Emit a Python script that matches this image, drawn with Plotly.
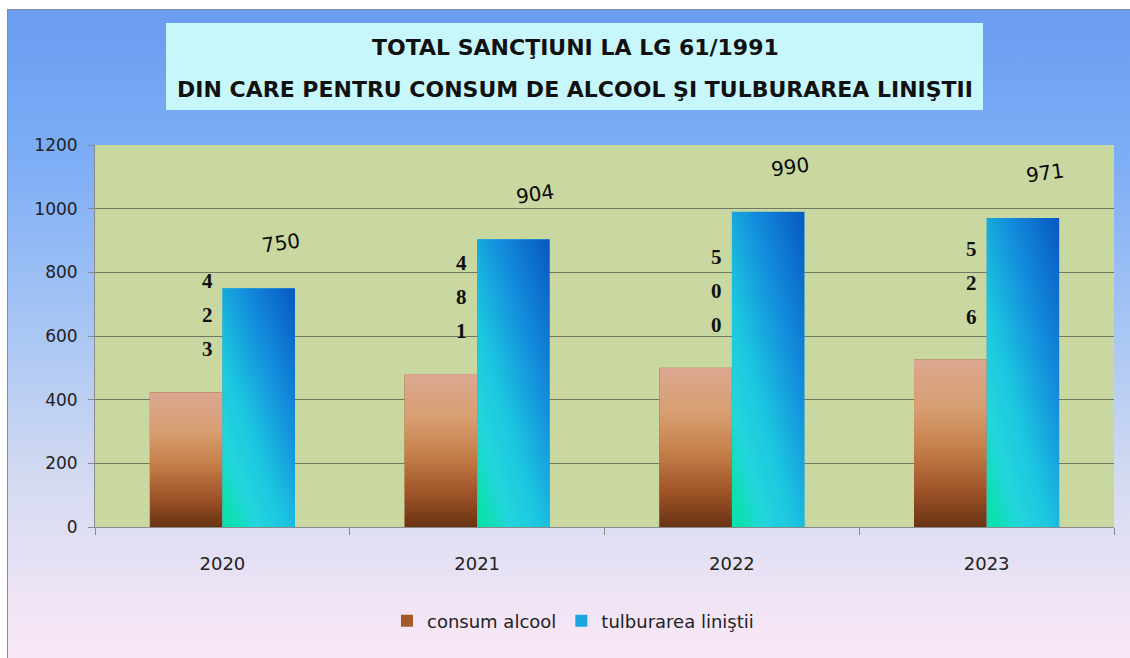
import base64
import plotly.graph_objects as go

# ---------------- data ----------------
years = ["2020", "2021", "2022", "2023"]
consum_alcool = [423, 481, 500, 526]
tulburarea_linistii = [750, 904, 990, 971]
y_ticks = [0, 200, 400, 600, 800, 1000, 1200]
series_names = ["consum alcool", "tulburarea liniştii"]
title_line1 = "TOTAL SANCŢIUNI LA LG 61/1991"
title_line2 = "DIN CARE PENTRU CONSUM DE ALCOOL ŞI TULBURAREA LINIŞTII"

# ---------------- layout geometry ----------------
W, H = 1130, 658
L, R, T, B = 95, 16, 145, 131
PW, PH = W - L - R, H - T - B
BARGAP = 0.43
BW = (1 - BARGAP) / 2
xs = list(range(len(years)))


def px2paper_x(px):
    return (px - L) / PW


def px2paper_y(py):
    return (H - B - py) / PH


def svg_uri(s):
    return "data:image/svg+xml;base64," + base64.b64encode(s.encode("utf-8")).decode()


bg_svg = f'''<svg xmlns="http://www.w3.org/2000/svg" width="{W}" height="{H}" viewBox="0 0 {W} {H}" preserveAspectRatio="none">
<defs><linearGradient id="g" x1="0" y1="0" x2="0" y2="1">
<stop offset="0" stop-color="#6a9cf0"/>
<stop offset="0.22" stop-color="#7cadf6"/>
<stop offset="0.5" stop-color="#abc7f4"/>
<stop offset="0.72" stop-color="#d5dbf1"/>
<stop offset="1" stop-color="#fde9f7"/>
</linearGradient></defs>
<rect x="0" y="0" width="{W}" height="{H}" fill="#ffffff"/>
<rect x="7.5" y="9.5" width="1140" height="660" fill="url(#g)" stroke="#8c8c8c" stroke-width="1"/>
<rect x="166" y="23" width="817" height="87" fill="#c8f7fb"/>
</svg>'''

brown_svg = '''<svg xmlns="http://www.w3.org/2000/svg" width="100" height="100" viewBox="0 0 100 100" preserveAspectRatio="none">
<defs><linearGradient id="b" x1="0" y1="0" x2="0" y2="1">
<stop offset="0" stop-color="#dba791"/>
<stop offset="0.28" stop-color="#d89f72"/>
<stop offset="0.52" stop-color="#c6804c"/>
<stop offset="0.78" stop-color="#9f5428"/>
<stop offset="1" stop-color="#683213"/>
</linearGradient></defs>
<rect x="0" y="0" width="100" height="100" fill="url(#b)"/>
</svg>'''

blue_svg = '''<svg xmlns="http://www.w3.org/2000/svg" width="100" height="100" viewBox="0 0 100 100" preserveAspectRatio="none">
<defs><linearGradient id="c" x1="1" y1="0" x2="0.15" y2="1">
<stop offset="0" stop-color="#0757c2"/>
<stop offset="0.35" stop-color="#138ddc"/>
<stop offset="0.65" stop-color="#1cc6e0"/>
<stop offset="0.85" stop-color="#22d6dc"/>
<stop offset="1" stop-color="#0de0b0"/>
</linearGradient></defs>
<rect x="0" y="0" width="100" height="100" fill="url(#c)"/>
</svg>'''

fig = go.Figure()
fig.add_trace(go.Bar(x=xs, y=consum_alcool, name=series_names[0],
                     marker=dict(color="#a4592b", line=dict(width=0))))
fig.add_trace(go.Bar(x=xs, y=tulburarea_linistii, name=series_names[1],
                     marker=dict(color="#1aa6e0", line=dict(width=0))))

images = [dict(source=svg_uri(bg_svg), xref="paper", yref="paper",
               x=px2paper_x(0), y=px2paper_y(0),
               sizex=W / PW, sizey=H / PH, xanchor="left", yanchor="top",
               sizing="stretch", layer="below")]
for i, v in zip(xs, consum_alcool):
    images.append(dict(source=svg_uri(brown_svg), xref="x", yref="y", x=i - BW, y=v,
                       sizex=BW, sizey=v, xanchor="left", yanchor="top",
                       sizing="stretch", layer="above"))
for i, v in zip(xs, tulburarea_linistii):
    images.append(dict(source=svg_uri(blue_svg), xref="x", yref="y", x=i, y=v,
                       sizex=BW, sizey=v, xanchor="left", yanchor="top",
                       sizing="stretch", layer="above"))

shapes = [dict(type="rect", xref="paper", yref="paper", x0=0, x1=1, y0=0, y1=1,
               fillcolor="#c9d8a0", line=dict(width=0), layer="below")]

annotations = []
# title
title_font = dict(family="DejaVu Sans, sans-serif", size=22,
                  color="#111111", weight="bold")
annotations.append(dict(text=title_line1, xref="paper", yref="paper",
                        x=px2paper_x(575), y=px2paper_y(47), showarrow=False,
                        font=title_font, xanchor="center", yanchor="middle"))
annotations.append(dict(text=title_line2, xref="paper", yref="paper",
                        x=px2paper_x(575), y=px2paper_y(90), showarrow=False,
                        font=title_font, xanchor="center", yanchor="middle"))
# blue value labels
for i, v in zip(xs, tulburarea_linistii):
    annotations.append(dict(text=str(v), xref="x", yref="y", x=i + BW / 2, y=v,
                            xshift=22, yshift=45, showarrow=False, textangle=-8,
                            font=dict(family="DejaVu Sans, sans-serif", size=20, color="#0a0a0a")))
# brown value labels (stacked digits)
for i, v in zip(xs, consum_alcool):
    digits = str(v)
    n = len(digits)
    for k, d in enumerate(digits):
        annotations.append(dict(text=d, xref="x", yref="y", x=i - BW / 2, y=v,
                                xshift=21, yshift=43 + (n - 1 - k) * 34, showarrow=False,
                                font=dict(family="Liberation Serif, serif", size=21,
                                          color="#111111", weight="bold")))

tick_font = dict(family="DejaVu Sans, sans-serif", size=17, color="#222222")

fig.update_layout(
    width=W, height=H,
    margin=dict(l=L, r=R, t=T, b=B, pad=0),
    paper_bgcolor="rgba(0,0,0,0)",
    plot_bgcolor="#c9d8a0",
    barmode="group", bargap=BARGAP, bargroupgap=0,
    images=images,
    shapes=shapes,
    annotations=annotations,
    showlegend=True,
    legend=dict(orientation="h", x=px2paper_x(573), y=px2paper_y(621),
                xanchor="center", yanchor="middle", bgcolor="rgba(0,0,0,0)",
                font=dict(family="DejaVu Sans, sans-serif", size=18, color="#222222"),
                itemwidth=30, tracegroupgap=0),
    xaxis=dict(range=[-0.5, len(years) - 0.5], tickvals=xs, ticktext=years,
               showgrid=False, zeroline=False, showline=True, linecolor="#8a8a8a", linewidth=1,
               ticks="", ticklabelstandoff=20,
               tickfont=dict(family="DejaVu Sans, sans-serif", size=18, color="#222222"),
               minor=dict(tickmode="linear", tick0=-0.5, dtick=1, ticks="outside",
                          ticklen=7, tickcolor="#8a8a8a", tickwidth=1, showgrid=False),
               fixedrange=True),
    yaxis=dict(range=[0, 1200], tickvals=y_ticks, showgrid=True, gridcolor="#727962", gridwidth=1,
               zeroline=False, showline=True, linecolor="#8a8a8a", linewidth=1,
               ticks="outside", ticklen=6, tickcolor="#8a8a8a", ticklabelstandoff=7,
               tickfont=tick_font,
               fixedrange=True),
)

fig.write_html("out.html", config={"displayModeBar": False},
               post_script="document.body.style.margin='0';document.body.style.overflow='hidden';")
